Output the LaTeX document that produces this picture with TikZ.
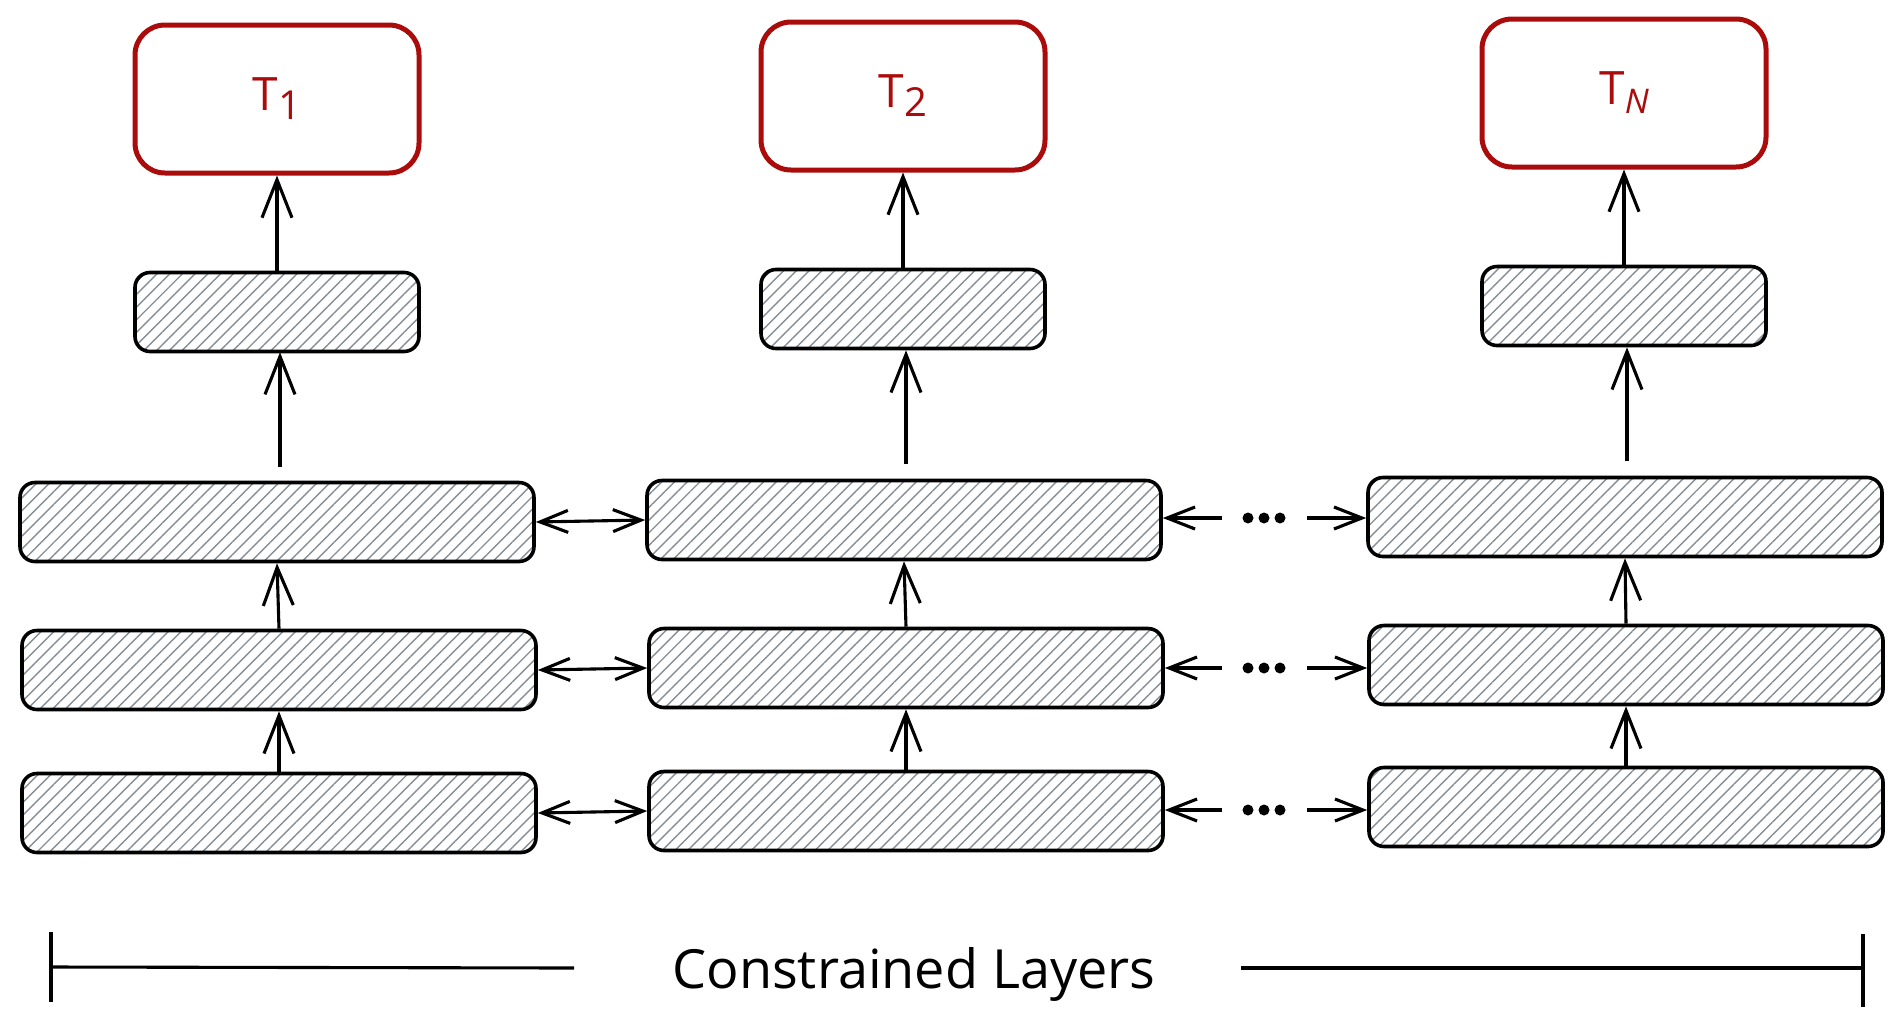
\documentclass[tikz,border=0pt]{standalone}
\usepackage{fontspec}
\setmainfont{Open Sans}
\usetikzlibrary{arrows.meta,patterns.meta}
\definecolor{tred}{RGB}{170,12,12}
\definecolor{hatch}{RGB}{134,142,150}
\begin{document}
\begin{tikzpicture}[x=1pt,y=-1pt,
  target/.style={draw=tred, line width=5pt, rounded corners=30pt, minimum width=284pt, minimum height=148pt, text=tred, font=\fontsize{46}{54}\selectfont, inner sep=0pt},
  layer/.style={draw=black, line width=3.6pt, rounded corners=15pt, pattern={Lines[angle=45,distance=9pt,line width=1.4pt]}, pattern color=hatch, minimum height=79pt, inner sep=0pt},
  smallbox/.style={layer, minimum width=284pt},
  widebox/.style={layer, minimum width=514pt},
  varr/.style={line width=3.1pt, -{Straight Barb[length=38pt,width=30pt,line width=3.1pt]}},
  harr/.style={line width=3.1pt, -{Straight Barb[length=28pt,width=22pt,line width=3.1pt]}},
  hdarr/.style={line width=3.1pt, {Straight Barb[length=28pt,width=22pt,line width=3.1pt]}-{Straight Barb[length=28pt,width=22pt,line width=3.1pt]}},
  dot/.style={circle, fill=black, inner sep=0pt, minimum size=11pt},
  tick/.style={line width=3.1pt},
]
\useasboundingbox (0,0) rectangle (1903,1029);

% targets
\node[target] (t1) at (277,99) {T\raisebox{-9pt}{\fontsize{40}{46}\selectfont 1}};
\node[target] (t2) at (903,96) {T\raisebox{-9pt}{\fontsize{40}{46}\selectfont 2}};
\node[target] (tn) at (1624,93) {T\raisebox{-9pt}{\fontsize{34}{40}\selectfont\itshape N}};

% small heads
\node[smallbox] (s1) at (277,312) {};
\node[smallbox] (s2) at (903,309) {};
\node[smallbox] (s3) at (1624,306) {};

% layers
\node[widebox] (a1) at (277,522) {};
\node[widebox] (a2) at (904,520) {};
\node[widebox] (a3) at (1625,517) {};
\node[widebox] (b1) at (279,670) {};
\node[widebox] (b2) at (906,668) {};
\node[widebox] (b3) at (1626,665) {};
\node[widebox] (c1) at (279,813) {};
\node[widebox] (c2) at (906,811) {};
\node[widebox] (c3) at (1626,807) {};

% vertical arrows
\coordinate (a1t) at (280,467);
\coordinate (a2t) at (906,464);
\coordinate (a3t) at (1627,461);
\draw[varr] (s1.north) -- (t1.south);
\draw[varr] (s2.north) -- (t2.south);
\draw[varr] (s3.north) -- (tn.south);
\draw[varr] (a1t) -- (a1t |- s1.south);
\draw[varr] (a2t) -- (a2t |- s2.south);
\draw[varr] (a3t) -- (a3t |- s3.south);
\draw[varr] (b1.north) -- (a1.south);
\draw[varr] (b2.north) -- (a2.south);
\draw[varr] (b3.north) -- (a3.south);
\draw[varr] (c1.north) -- (b1.south);
\draw[varr] (c2.north) -- (b2.south);
\draw[varr] (c3.north) -- (b3.south);

% horizontal arrows col1 <-> col2
\draw[hdarr] (a1.east) -- (a2.west);
\draw[hdarr] (b1.east) -- (b2.west);
\draw[hdarr] (c1.east) -- (c2.west);

% dots
\foreach \r/\y in {a/518,b/668,c/810}{
  \node[dot] (\r d1) at (1248,\y) {};
  \node[dot] (\r d2) at (1264,\y) {};
  \node[dot] (\r d3) at (1280,\y) {};
  \coordinate (\r l) at (1222,\y);
  \coordinate (\r r) at (1307,\y);
}
\draw[harr] (al) -- (a2.east |- al);
\draw[harr] (ar) -- (a3.west |- ar);
\draw[harr] (bl) -- (b2.east |- bl);
\draw[harr] (br) -- (b3.west |- br);
\draw[harr] (cl) -- (c2.east |- cl);
\draw[harr] (cr) -- (c3.west |- cr);

% bottom scale
\node[font=\fontsize{54}{62}\selectfont] (lbl) at (914,974) {Constrained Layers};
\coordinate (lt1) at (51,932);
\coordinate (lt2) at (51,1002);
\coordinate (lm) at (51,967);
\coordinate (le) at (574,968);
\coordinate (rt1) at (1863,934);
\coordinate (rt2) at (1863,1007);
\coordinate (rm) at (1863,968);
\coordinate (rs) at (1241,968);
\draw[tick] (lt1) -- (lt2);
\draw[tick] (lm) -- (le);
\draw[tick] (rt1) -- (rt2);
\draw[tick] (rs) -- (rm);
\end{tikzpicture}
\end{document}
